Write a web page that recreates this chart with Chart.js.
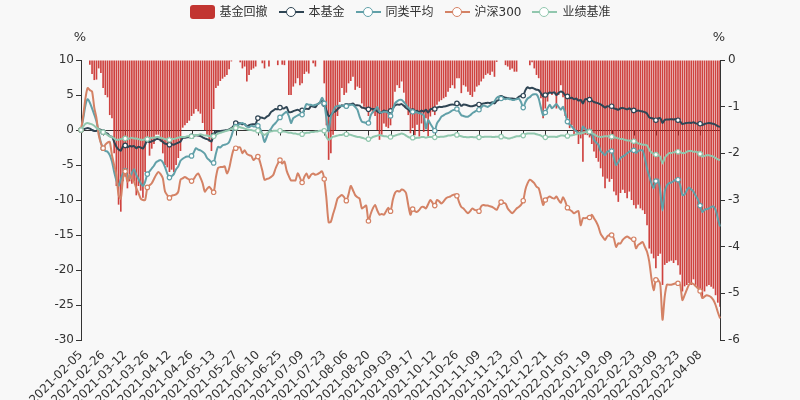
<!DOCTYPE html>
<html>
<head>
<meta charset="utf-8">
<script src="https://cdn.jsdelivr.net/npm/chart.js@4.4.0/dist/chart.umd.min.js"></script>
<style>
  body { margin: 0; background: #f8f8f8; }
  #wrap { position: relative; width: 800px; height: 400px; font-family: 'DejaVu Sans', 'Noto Sans CJK SC', sans-serif; }
  #chart { position: absolute; left: 0; top: 0; }
  #legend { position: absolute; top: 5px; left: 0; width: 800px; display: flex; justify-content: center; gap: 11px; font-size: 12px; color: #333; }
  .legend-item { display: flex; align-items: center; height: 14px; line-height: 14px; }
  .legend-box { width: 25px; height: 14px; border-radius: 3px; margin-right: 5px; }
  .legend-line { position: relative; width: 25px; height: 14px; margin-right: 5px; }
  .legend-line .stroke { position: absolute; left: 0; top: 6px; width: 25px; height: 2px; }
  .legend-line .dot { position: absolute; left: 7px; top: 1.5px; width: 8px; height: 8px; border: 1.5px solid; border-radius: 50%; background: #fff; }
</style>
</head>
<body>
<div id="wrap">
  <canvas id="chart" width="800" height="400"></canvas>
  <div id="legend"></div>
</div>
<script>
// Trading calendar: weekdays from the first day, minus exchange holidays
const firstDay = '2021-02-05';
const dayCount = 290;
const holidays = [
  '2021-02-11', '2021-02-12', '2021-02-15', '2021-02-16', '2021-02-17',
  '2021-04-05', '2021-05-03', '2021-05-04', '2021-05-05', '2021-06-14',
  '2021-09-20', '2021-09-21', '2021-10-01', '2021-10-04', '2021-10-05',
  '2021-10-06', '2021-10-07', '2022-01-03', '2022-01-31', '2022-02-01',
  '2022-02-02', '2022-02-03', '2022-02-04', '2022-04-04', '2022-04-05'
];

// 基金回撤 (right axis, %)
const drawdown = [
  0, 0, 0, 0, -0.1, -0.3, -0.43, -0.42, -0.18, -0.28,
  -0.6, -0.75, -0.8, -1.18, -1.25, -2.0, -2.7, -3.1, -3.25, -2.6,
  -2.5, -2.75, -2.6, -2.65, -2.6, -2.9, -2.7, -2.8, -2.95, -2.4,
  -1.7, -2.05, -1.9, -1.8, -1.6, -1.6, -1.75, -2.0, -2.25, -2.3,
  -2.4, -2.35, -2.4, -2.25, -2.1, -1.95, -1.45, -1.4, -1.35, -1.3,
  -1.2, -1.15, -1.05, -1.1, -1.15, -1.35, -1.5, -1.6, -1.75, -1.95,
  -1.05, -0.6, -0.55, -0.45, -0.4, -0.36, -0.32, -0.2, -0.03, 0,
  0, 0, -0.05, -0.18, -0.14, -0.46, -0.32, -0.21, -0.18, -0.14,
  0, 0, -0.07, -0.18, 0, -0.14, 0, 0, 0, -0.11,
  0, -0.1, -0.11, 0, -0.75, -0.75, -0.57, -0.5, -0.39, -0.54,
  -0.5, -0.3, -0.25, -0.29, 0, -0.07, -0.14, 0, 0, 0,
  -0.5, -1.4, -2.14, -2.0, -1.6, -1.5, -1.2, -0.9, -0.6, -0.75,
  -0.7, -0.5, -0.45, -0.36, -0.64, -0.57, -0.6, -0.93, -1.0, -1.07,
  -1.2, -1.1, -1.14, -1.2, -1.5, -1.71, -1.6, -1.36, -1.43, -1.46,
  -1.4, -1.04, -0.68, -0.54, -0.6, -0.46, -0.7, -1.0, -1.18, -1.57,
  -1.46, -1.61, -1.39, -1.64, -1.36, -1.54, -1.25, -1.64, -1.21, -1.11,
  -1.18, -0.96, -0.89, -0.86, -0.82, -0.79, -0.68, -0.6, -0.54, -0.61,
  -0.39, -0.39, -0.71, -0.54, -0.57, -0.68, -0.75, -0.79, -0.68, -0.57,
  -0.54, -0.46, -0.4, -0.32, -0.29, -0.32, -0.25, -0.36, -0.04, 0,
  0, 0, -0.11, -0.14, -0.21, -0.18, -0.25, -0.25, 0, 0,
  0, 0, 0, -0.11, -0.05, -0.18, -0.32, -0.39, -0.82, -1.25,
  -1.04, -0.89, -0.71, -0.75, -0.68, -1.04, -0.75, -0.54, -0.8, -1.2,
  -1.25, -1.46, -1.4, -1.61, -1.5, -1.8, -1.68, -2.18, -1.6, -1.61,
  -1.66, -1.8, -1.96, -2.1, -2.18, -2.32, -2.5, -2.75, -2.54, -2.61,
  -2.55, -2.82, -2.9, -3.04, -2.85, -2.78, -2.85, -2.96, -2.82, -3.0,
  -3.11, -3.18, -3.1, -3.18, -3.22, -3.3, -3.54, -4.04, -4.15, -4.25,
  -4.46, -4.2, -4.15, -4.82, -4.39, -4.35, -4.32, -4.3, -4.35, -4.29,
  -4.4, -4.6, -4.96, -4.85, -4.82, -4.78, -4.82, -4.7, -4.82, -4.89,
  -4.9, -5.11, -4.96, -4.85, -4.82, -4.86, -4.9, -5.04, -5.2, -5.29
];

// 本基金 (left axis, %)
const fund = [
  0, 0.1, 0.2, 0.3, 0.2, 0.0, -0.13, -0.12, 0.12, 0.02,
  -0.3, -0.45, -0.5, -0.9, -0.95, -1.7, -2.4, -2.8, -2.95, -2.3,
  -2.2, -2.45, -2.3, -2.35, -2.3, -2.6, -2.4, -2.5, -2.65, -2.1,
  -1.4, -1.75, -1.6, -1.5, -1.3, -1.3, -1.45, -1.7, -1.95, -2.0,
  -2.1, -2.05, -2.1, -1.95, -1.8, -1.65, -1.15, -1.1, -1.05, -1.0,
  -0.9, -0.85, -0.75, -0.8, -0.85, -1.05, -1.2, -1.3, -1.45, -1.65,
  -0.75, -0.3, -0.25, -0.15, -0.1, -0.06, -0.02, 0.1, 0.27, 0.6,
  1.0, 0.95, 0.95, 0.82, 0.86, 0.54, 0.68, 0.79, 0.82, 0.86,
  1.7, 1.8, 1.75, 1.65, 1.9, 2.1, 2.6, 2.8, 3.0, 2.95,
  3.2, 3.1, 3.1, 3.3, 2.55, 2.55, 2.7, 2.8, 2.9, 2.75,
  2.8, 3.0, 3.05, 3.0, 3.4, 3.35, 3.25, 3.7, 3.9, 4.2,
  3.7, 2.8, 2.0, 2.1, 2.5, 2.65, 2.95, 3.25, 3.55, 3.4,
  3.45, 3.65, 3.7, 3.8, 3.5, 3.55, 3.5, 3.2, 3.15, 3.05,
  2.95, 3.05, 3.0, 2.95, 2.65, 2.45, 2.55, 2.8, 2.7, 2.65,
  2.75, 3.1, 3.5, 3.65, 3.6, 3.7, 3.45, 3.15, 2.95, 2.55,
  2.7, 2.55, 2.75, 2.5, 2.8, 2.6, 2.9, 2.5, 2.95, 3.05,
  3.0, 3.2, 3.3, 3.3, 3.35, 3.4, 3.5, 3.6, 3.65, 3.6,
  3.8, 3.8, 3.45, 3.65, 3.6, 3.5, 3.4, 3.4, 3.5, 3.6,
  3.65, 3.7, 3.8, 3.85, 3.9, 3.85, 3.95, 3.8, 4.15, 4.3,
  4.6, 4.7, 4.6, 4.55, 4.5, 4.5, 4.45, 4.45, 4.75, 4.85,
  4.9, 5.7, 6.1, 5.95, 6.05, 5.9, 5.75, 5.7, 5.25, 4.8,
  5.0, 5.15, 5.35, 5.3, 5.4, 5.0, 5.3, 5.5, 5.35, 4.95,
  4.8, 4.55, 4.6, 4.4, 4.5, 4.2, 4.3, 3.8, 4.4, 4.4,
  4.35, 4.2, 4.0, 3.9, 3.8, 3.65, 3.45, 3.2, 3.4, 3.35,
  3.4, 3.1, 3.0, 2.9, 3.1, 3.15, 3.05, 2.95, 3.1, 2.9,
  2.8, 2.7, 2.8, 2.7, 2.65, 2.55, 2.35, 1.8, 1.7, 1.6,
  1.4, 1.65, 1.7, 1.0, 1.45, 1.5, 1.5, 1.55, 1.5, 1.55,
  1.4, 1.2, 0.85, 0.95, 1.0, 1.05, 1.0, 1.1, 0.95, 0.9,
  0.9, 0.7, 0.85, 0.95, 1.0, 0.95, 0.9, 0.75, 0.55, 0.45
];

// 同类平均 (left axis, %)
const peer = [
  0, 1.6, 3.5, 4.4, 3.9, 3.1, 2.2, 1.2, -0.3, -1.8,
  -2.6, -3.0, -3.1, -3.6, -4.5, -6.0, -7.2, -8.0, -7.0, -6.2,
  -5.8, -6.6, -6.9, -6.1, -5.6, -6.4, -7.0, -7.6, -8.0, -7.4,
  -6.3, -5.9, -5.5, -5.1, -4.6, -4.4, -4.3, -4.6, -5.3, -6.2,
  -6.8, -6.6, -6.3, -5.6, -5.2, -4.4, -4.1, -3.9, -3.8, -3.8,
  -3.7, -3.2, -2.6, -2.8, -2.9, -3.1, -3.4, -4.0, -4.3, -4.6,
  -4.7, -3.4, -2.4, -2.5, -2.2, -2.1, -2.0, -1.7, -0.9, 0.1,
  0.5, 0.7, 0.9, 1.0, 0.8, 0.5, 0.4, 0.6, 0.5, 0.5,
  0.6, 0.2, -0.6, -1.7, -1.0, -0.2, 0.2, 0.7, 1.0, 1.4,
  1.8, 2.1, 2.4, 2.6, 2.0, 1.0, 1.7, 1.9, 2.1, 2.2,
  2.2, 3.0, 3.7, 3.6, 3.6, 3.5, 3.6, 3.7, 3.9, 4.6,
  3.8, 1.7, -0.2, 1.9, 2.6, 3.3, 3.4, 3.5, 3.4, 3.5,
  3.4, 3.5, 3.6, 3.6, 3.3, 2.9, 1.9, 1.2, 1.1, 1.0,
  1.0, 2.1, 2.6, 2.9, 3.3, 2.6, 2.5, 2.6, 2.6, 2.4,
  2.0, 2.9, 3.8, 4.1, 4.3, 4.3, 4.0, 3.6, 3.2, 2.9,
  2.6, 2.6, 2.5, 2.4, 2.3, 2.1, 0.2, 1.4, 0.9, 0.4,
  -0.1, 0.95, 1.4, 1.9, 2.1, 2.3, 2.4, 2.6, 2.8, 2.9,
  3.0, 2.6, 2.1, 2.0, 1.9, 1.9, 2.1, 2.4, 2.6, 2.8,
  2.9, 3.2, 3.5, 3.4, 3.3, 3.5, 3.8, 4.1, 4.6, 4.8,
  4.5, 4.5, 4.4, 4.5, 4.4, 4.3, 4.3, 4.4, 4.5, 4.0,
  3.2, 4.0, 4.5, 4.7, 5.0, 5.1, 5.1, 4.5, 3.2, 2.1,
  2.5, 3.1, 3.6, 3.1, 3.4, 3.7, 3.3, 2.9, 3.3, 2.4,
  1.2, 0.8, 0.5, 0.1, -0.2, -0.4, -0.5, 0.5, 0.2, -0.2,
  -0.2, -0.5, -1.4, -1.8, -2.1, -3.0, -3.3, -3.6, -3.1, -3.0,
  -3.0, -4.0, -5.0, -4.6, -4.0, -3.8, -3.6, -3.3, -3.1, -2.9,
  -2.9, -3.3, -3.0, -2.9, -2.9, -4.0, -5.5, -6.6, -7.6, -8.3,
  -7.3, -7.1, -8.8, -11.5, -8.8, -7.9, -7.6, -7.5, -7.3, -7.1,
  -7.1, -7.9, -9.3, -9.2, -8.6, -8.2, -8.5, -8.8, -9.4, -9.9,
  -10.8, -11.7, -11.4, -11.3, -11.2, -11.0, -10.9, -11.4, -12.6, -13.8
];

// 沪深300 (left axis, %)
const hs300 = [
  0, 2.0, 4.5, 6.0, 5.7, 5.5, 3.2, 1.7, -0.7, -1.9,
  -2.6, -2.1, -1.8, -1.7, -3.6, -5.0, -6.4, -9.3, -9.8, -6.9,
  -5.9, -7.4, -6.4, -6.9, -7.4, -8.3, -9.0, -9.8, -10.0, -10.0,
  -8.2, -7.9, -7.6, -7.0, -6.4, -6.0, -6.3, -6.9, -8.8, -9.3,
  -9.7, -9.4, -9.3, -9.2, -8.8, -7.1, -6.9, -6.7, -6.9, -7.1,
  -7.3, -7.0, -6.5, -6.2, -6.8, -7.6, -8.8, -8.4, -8.1, -8.5,
  -8.9, -6.8, -5.4, -5.3, -5.3, -5.2, -6.2, -5.5, -4.0, -2.8,
  -2.6, -2.5, -2.5, -3.3, -2.9, -3.4, -3.6, -3.7, -4.3, -4.0,
  -3.8, -4.6, -5.8, -7.1, -7.0, -6.9, -6.7, -6.4, -5.5, -4.8,
  -4.3, -4.8, -4.5, -5.8, -6.6, -7.2, -7.2, -7.2, -6.2, -6.8,
  -7.5, -6.7, -6.2, -6.9, -6.4, -6.2, -6.4, -6.3, -6.1, -5.9,
  -7.0, -9.8, -13.2, -13.1, -12.0, -11.0, -9.8, -9.5, -9.3, -9.6,
  -10.1, -9.2, -8.0, -8.6, -9.3, -9.6, -9.8, -11.2, -11.0, -10.8,
  -13.0, -12.0, -11.2, -10.7, -11.5, -12.1, -12.0, -12.1, -11.6, -11.1,
  -11.6, -10.0, -9.0, -8.7, -8.8, -8.5, -8.6, -9.0, -10.7, -12.1,
  -11.3, -11.6, -11.7, -11.4, -11.0, -11.0, -11.2, -10.6, -10.0, -10.4,
  -10.8, -10.0, -10.2, -10.5, -10.2, -9.8, -9.6, -9.5, -9.3, -9.2,
  -9.4, -10.3, -11.0, -11.2, -11.6, -11.9, -11.6, -11.2, -11.4, -11.5,
  -11.6, -10.9, -10.7, -10.8, -10.8, -10.9, -11.0, -11.2, -11.4, -10.8,
  -10.3, -10.4, -10.5, -11.2, -11.6, -11.9, -11.6, -11.2, -11.0, -10.7,
  -10.1, -8.5, -7.6, -7.1, -7.3, -7.6, -8.1, -8.3, -9.5, -10.7,
  -10.0, -9.7, -9.5, -9.7, -9.8, -9.5, -10.0, -10.4, -9.6, -10.2,
  -11.1, -11.4, -11.6, -11.9, -11.7, -11.6, -13.6, -12.6, -12.6, -12.5,
  -12.5, -12.1, -12.6, -13.1, -13.8, -14.8, -15.3, -15.7, -15.2, -15.0,
  -15.0, -15.5, -16.7, -16.2, -16.2, -15.7, -15.4, -15.2, -15.4, -15.6,
  -15.6, -16.9, -16.4, -16.2, -16.0, -16.7, -17.4, -18.8, -21.2, -22.9,
  -21.4, -21.4, -22.1, -27.1, -23.8, -22.1, -22.1, -22.1, -22.0, -21.9,
  -21.9, -22.1, -24.3, -23.6, -22.8, -22.1, -21.9, -22.0, -22.3, -22.6,
  -23.0, -24.0, -23.8, -23.6, -23.7, -23.9, -24.3, -25.0, -26.0, -26.9
];

// 业绩基准 (left axis, %)
const bench = [
  0, 0.5, 0.9, 1.0, 0.9, 0.8, 0.6, 0.3, 0.1, -0.1,
  -0.3, -0.5, -0.7, -0.9, -1.0, -1.2, -1.4, -1.4, -1.3, -1.2,
  -1.2, -1.3, -1.2, -1.1, -1.2, -1.2, -1.3, -1.4, -1.4, -1.3,
  -1.3, -1.2, -1.1, -1.1, -1.0, -1.0, -1.1, -1.2, -1.3, -1.4,
  -1.4, -1.3, -1.3, -1.2, -1.1, -1.0, -1.0, -1.0, -0.9, -0.9,
  -0.9, -0.8, -0.7, -0.7, -0.6, -0.7, -0.8, -0.8, -0.9, -0.9,
  -0.9, -0.7, -0.5, -0.4, -0.3, -0.2, -0.1, 0.0, 0.2, 0.3,
  0.3, 0.4, 0.4, 0.3, 0.2, 0.1, 0.0, 0.0, -0.1, -0.1,
  -0.1, -0.3, -0.5, -0.7, -0.5, -0.3, -0.2, -0.1, -0.1, -0.1,
  -0.1, -0.2, -0.2, -0.3, -0.4, -0.4, -0.5, -0.5, -0.6, -0.6,
  -0.6, -0.5, -0.4, -0.4, -0.3, -0.3, -0.2, -0.2, -0.1, -0.1,
  -0.1, -1.0, -1.4, -1.2, -0.95, -0.9, -0.8, -0.7, -0.7, -0.6,
  -0.6, -0.6, -0.7, -0.8, -0.9, -1.0, -1.0, -1.1, -1.2, -1.3,
  -1.3, -1.2, -1.0, -0.9, -0.8, -0.7, -0.8, -0.9, -0.9, -1.0,
  -1.0, -0.9, -0.8, -0.7, -0.6, -0.5, -0.6, -0.8, -1.0, -1.1,
  -1.1, -1.2, -1.1, -1.1, -1.0, -1.0, -1.1, -1.0, -1.0, -1.0,
  -1.05, -1.0, -1.0, -0.95, -0.95, -0.9, -0.8, -0.8, -0.7, -0.7,
  -0.7, -0.8, -0.9, -1.0, -1.0, -1.05, -1.0, -1.0, -1.05, -1.05,
  -1.05, -1.0, -1.0, -0.95, -0.95, -0.95, -1.0, -1.0, -0.95, -0.95,
  -0.95, -1.0, -1.1, -1.2, -1.2, -1.1, -1.0, -0.9, -0.9, -0.8,
  -0.8, -0.6, -0.5, -0.5, -0.5, -0.5, -0.6, -0.7, -0.8, -1.0,
  -1.05, -1.0, -0.95, -0.95, -0.95, -1.0, -0.9, -0.8, -0.8, -0.85,
  -0.85, -0.8, -0.75, -0.7, -0.6, -0.5, -0.5, -0.4, -0.3, -0.25,
  -0.25, -0.4, -0.6, -0.8, -0.95, -1.0, -0.95, -0.9, -0.9, -0.95,
  -0.95, -1.0, -1.1, -1.2, -1.3, -1.3, -1.4, -1.5, -1.5, -1.6,
  -1.6, -1.7, -1.9, -2.0, -2.1, -2.1, -2.2, -2.8, -3.2, -3.4,
  -3.5, -3.6, -3.8, -4.8, -4.0, -3.6, -3.3, -3.3, -3.2, -3.1,
  -3.1, -3.2, -3.3, -3.3, -3.1, -3.0, -3.0, -3.1, -3.1, -3.2,
  -3.4, -3.8, -3.7, -3.6, -3.6, -3.7, -3.8, -4.0, -4.2, -4.3
];

const leftTicks = { min: -30, max: 10, step: 5 };
const rightTicks = { min: -6, max: 0, step: 1 };

const seriesColors = {
  drawdown: 'rgba(200, 40, 36, 0.88)',
  fund: '#2f4554',
  peer: '#61a0a8',
  hs300: '#d48265',
  bench: '#91c7ae'
};

function buildTradingDays() {
  const days = [];
  const d = new Date(firstDay + 'T00:00:00Z');
  while (days.length < dayCount) {
    const s = d.toISOString().slice(0, 10);
    const wd = d.getUTCDay();
    if (wd !== 0 && wd !== 6 && holidays.indexOf(s) === -1) days.push(s);
    d.setUTCDate(d.getUTCDate() + 1);
  }
  return days;
}
const dates = buildTradingDays();

// Legend, built by hand like ECharts draws it
const legendItems = [
  { label: '基金回撤', color: '#c23531', box: true },
  { label: '本基金', color: seriesColors.fund },
  { label: '同类平均', color: seriesColors.peer },
  { label: '沪深300', color: seriesColors.hs300 },
  { label: '业绩基准', color: seriesColors.bench }
];
const legendEl = document.getElementById('legend');
legendItems.forEach(item => {
  const el = document.createElement('div');
  el.className = 'legend-item';
  const icon = document.createElement('div');
  if (item.box) {
    icon.className = 'legend-box';
    icon.style.backgroundColor = item.color;
  } else {
    icon.className = 'legend-line';
    icon.innerHTML = '<div class="stroke"></div><div class="dot"></div>';
    icon.querySelector('.stroke').style.backgroundColor = item.color;
    icon.querySelector('.dot').style.borderColor = item.color;
  }
  const text = document.createElement('span');
  text.textContent = item.label;
  el.appendChild(icon);
  el.appendChild(text);
  legendEl.appendChild(el);
});

// zero line of the left axis with its small ticks, under the bars
const zeroAxis = {
  id: 'zeroAxis',
  beforeDatasetsDraw(chart) {
    const { ctx, chartArea, scales } = chart;
    const y0 = Math.round(scales.y.getPixelForValue(0)) + 0.5;
    ctx.save();
    ctx.strokeStyle = '#333';
    ctx.lineWidth = 1;
    ctx.beginPath();
    ctx.moveTo(chartArea.left, y0);
    ctx.lineTo(chartArea.right, y0);
    for (let i = 0; i < dates.length; i += 10) {
      const x = Math.round(scales.x.getPixelForValue(i)) + 0.5;
      ctx.moveTo(x, y0);
      ctx.lineTo(x, y0 + 5);
    }
    ctx.stroke();
    ctx.restore();
  }
};

// "%" names above both value axes
const axisNames = {
  id: 'axisNames',
  afterDraw(chart) {
    const { ctx, scales, chartArea } = chart;
    ctx.save();
    ctx.fillStyle = '#333';
    ctx.font = "13px 'DejaVu Sans', sans-serif";
    ctx.textAlign = 'center';
    ctx.textBaseline = 'middle';
    ctx.fillText('%', scales.y.right - 1, chartArea.top - 22);
    ctx.fillText('%', scales.y2.left - 1, chartArea.top - 22);
    ctx.restore();
  }
};

function lineSet(label, data, color, order) {
  return {
    type: 'line',
    label: label,
    data: data,
    yAxisID: 'y',
    borderColor: color,
    backgroundColor: '#fff',
    borderWidth: 2,
    tension: 0.25,
    pointRadius: ctx => (ctx.dataIndex % 10 === 0 ? 2.2 : 0),
    pointBorderWidth: 1.2,
    pointBorderColor: color,
    pointBackgroundColor: '#fff',
    order: order
  };
}

Chart.defaults.font.family = "'DejaVu Sans', 'Noto Sans CJK SC', sans-serif";
Chart.defaults.font.size = 12;
Chart.defaults.color = '#333';

const chart = new Chart(document.getElementById('chart').getContext('2d'), {
  type: 'bar',
  data: {
    labels: dates,
    datasets: [
      {
        type: 'bar',
        label: '基金回撤',
        data: drawdown,
        yAxisID: 'y2',
        backgroundColor: seriesColors.drawdown,
        barPercentage: 0.75,
        categoryPercentage: 1,
        order: 5
      },
      lineSet('本基金', fund, seriesColors.fund, 4),
      lineSet('同类平均', peer, seriesColors.peer, 3),
      lineSet('沪深300', hs300, seriesColors.hs300, 2),
      lineSet('业绩基准', bench, seriesColors.bench, 1)
    ]
  },
  options: {
    responsive: false,
    animation: false,
    layout: { padding: { top: 60, left: 0, right: 0, bottom: 0 } },
    plugins: {
      legend: { display: false },
      tooltip: { enabled: false }
    },
    scales: {
      x: {
        offset: false,
        grid: { display: false, drawTicks: false },
        border: { display: false },
        ticks: {
          autoSkip: false,
          maxRotation: 45,
          minRotation: 45,
          padding: 8,
          callback: function(value, index) {
            return index % 10 === 0 ? dates[index] : null;
          }
        },
        afterFit: scale => { scale.height = 60; }
      },
      y: {
        position: 'left',
        min: leftTicks.min,
        max: leftTicks.max,
        ticks: { stepSize: leftTicks.step, padding: 2 },
        grid: { drawOnChartArea: false, tickLength: 5, color: '#333' },
        border: { color: '#333' },
        afterFit: scale => { scale.width = 81; }
      },
      y2: {
        position: 'right',
        min: rightTicks.min,
        max: rightTicks.max,
        ticks: { stepSize: rightTicks.step, padding: 3 },
        grid: { drawOnChartArea: false, tickLength: 5, color: '#333' },
        border: { color: '#333' },
        afterFit: scale => { scale.width = 80; }
      }
    }
  },
  plugins: [zeroAxis, axisNames]
});
</script>
</body>
</html>
